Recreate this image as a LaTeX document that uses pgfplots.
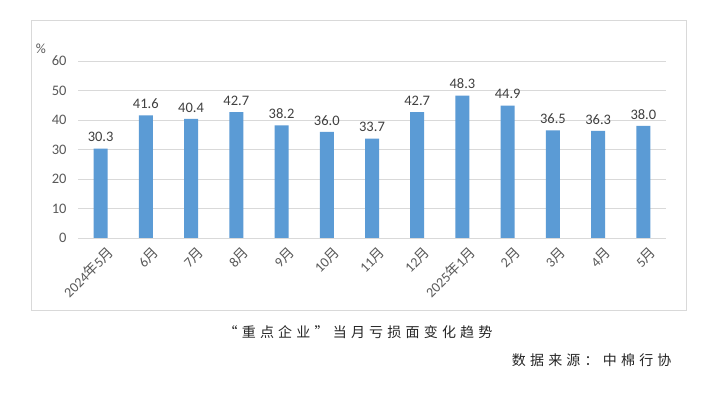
\documentclass[border=0pt]{standalone}
\usepackage{pgfplots}
\pgfplotsset{compat=1.18}
\usepackage{fontspec}
\setmainfont{Carlito}
\newfontfamily\cjk{Noto Sans CJK SC}
\definecolor{barblue}{HTML}{5B9BD5}
\definecolor{gridgray}{HTML}{D9D9D9}
\definecolor{txt}{HTML}{595959}
\definecolor{dtxt}{HTML}{404040}
\begin{document}
\begin{tikzpicture}[x=1pt,y=1pt]
\useasboundingbox[fill=white] (0,0) rectangle (710,393);
\draw[gridgray, line width=0.8pt] (31,83) rectangle (686,373);
\begin{axis}[
  at={(78pt,155pt)}, anchor=south west,
  scale only axis, width=588pt, height=177pt,
  xmin=-0.5, xmax=12.5, ymin=0, ymax=60,
  ytick={0,10,...,60},
  xtick={0,...,12},
  xticklabels={2024{\cjk 年}5{\cjk 月},6{\cjk 月},7{\cjk 月},8{\cjk 月},9{\cjk 月},10{\cjk 月},11{\cjk 月},12{\cjk 月},2025{\cjk 年}1{\cjk 月},2{\cjk 月},3{\cjk 月},4{\cjk 月},5{\cjk 月}},
  xticklabel style={rotate=45, anchor=north east, font=\fontsize{14}{14}\selectfont, text=txt, inner sep=0pt, yshift=-9pt, xshift=-1pt},
  yticklabel style={font=\fontsize{14.5}{14.5}\selectfont, text=txt, xshift=-8pt},
  /pgf/number format/assume math mode=true,
  major tick length=0pt,
  ymajorgrids, grid style={gridgray, line width=0.8pt},
  axis x line*=bottom, axis y line*=left,
  x axis line style={gridgray, line width=0.8pt, -},
  y axis line style={draw=none},
  ybar, bar width=14pt,
  nodes near coords={\pgfmathprintnumber[fixed,fixed zerofill,precision=1]{\pgfplotspointmeta}},
  every node near coord/.append style={font=\fontsize{14.5}{14.5}\selectfont, text=dtxt, yshift=3pt},
  clip=false,
]
\addplot[fill=barblue, draw=none] coordinates {
(0,30.3) (1,41.6) (2,40.4) (3,42.7) (4,38.2) (5,36.0) (6,33.7)
(7,42.7) (8,48.3) (9,44.9) (10,36.5) (11,36.3) (12,38.0)};
\end{axis}
\node[text=txt, font=\fontsize{14}{14}\selectfont] at (41,344) {\%};
\node[font=\cjk\fontsize{14}{14}\selectfont, text=black!85] at (358,61) {\addfontfeature{LetterSpace=30}“重点企业”当月亏损面变化趋势};
\node[font=\cjk\fontsize{14}{14}\selectfont, text=black!85, anchor=east] at (675,33) {\addfontfeature{LetterSpace=30}数据来源：中棉行协};
\end{tikzpicture}
\end{document}
